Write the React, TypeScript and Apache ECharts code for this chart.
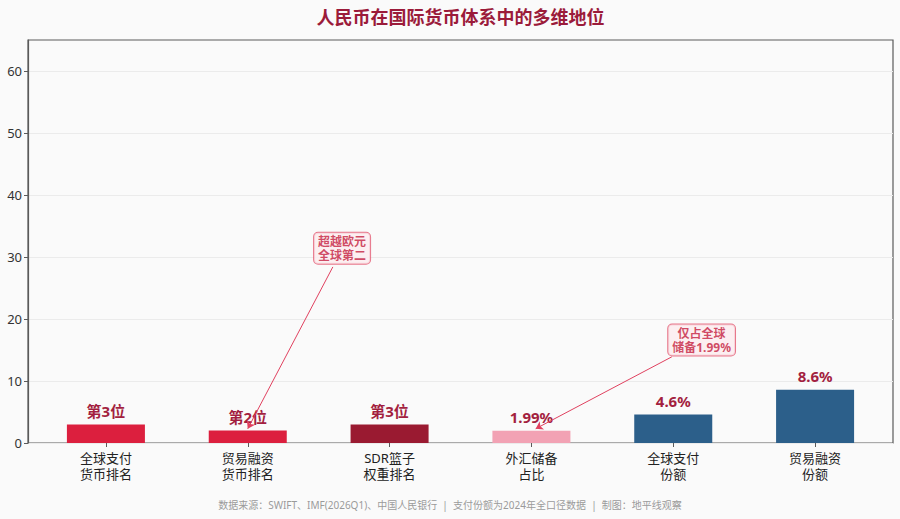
import React, { useEffect, useRef } from "react";
import * as echarts from "echarts";

const title = "人民币在国际货币体系中的多维地位";
const categories = [
  "全球支付\n货币排名",
  "贸易融资\n货币排名",
  "SDR篮子\n权重排名",
  "外汇储备\n占比",
  "全球支付\n份额",
  "贸易融资\n份额",
];
const values = [3, 2, 3, 1.99, 4.6, 8.6];
const valueLabels = ["第3位", "第2位", "第3位", "1.99%", "4.6%", "8.6%"];
const yTicks = [0, 10, 20, 30, 40, 50, 60];
const yMax = 65;

// annotations in data space (x = category index, y = value)
const annotationTexts = ["超越欧元\n全球第二", "仅占全球\n储备1.99%"];
const annotationBoxes = [
  [1.665, 31.4],
  [4.2, 16.6],
];
const arrowStarts = [
  [1.6, 28.4],
  [3.99, 13.9],
];
const arrowEnds = [
  [1.0, 2.3],
  [3.03, 2.3],
];
const footer =
  "数据来源：SWIFT、IMF(2026Q1)、中国人民银行  |  支付份额为2024年全口径数据  |  制图：地平线观察";

const barColors = ["#dc1f3e", "#dc1f3e", "#9a1a31", "#f2a2b4", "#2c5f8a", "#2c5f8a"];
const FONT = "'Noto Sans', 'Noto Sans CJK SC', sans-serif";

export default function App() {
  const ref = useRef<HTMLDivElement>(null);
  useEffect(() => {
    if (!ref.current) return;
    const chart = echarts.init(ref.current, undefined, { renderer: "svg" });
    const frame = "#5a5a5a";
    const option: any = {
      animation: false,
      backgroundColor: "#fafafa",
      textStyle: { fontFamily: FONT },
      graphic: [
        {
          type: "text",
          x: 460.5,
          y: 17,
          style: {
            text: title,
            fontFamily: FONT,
            fontSize: 18,
            fontWeight: "bold",
            fill: "#9b1b3a",
            align: "center",
            verticalAlign: "middle",
          },
        },
        {
          type: "text",
          left: "center",
          top: 500,
          style: { text: footer, fontFamily: FONT, fontSize: 10, fill: "#9a9a9a" },
        },
      ],
      grid: [
        { left: 28, right: 7, top: 40, bottom: 76, show: true, borderColor: frame, borderWidth: 1.2, backgroundColor: "#fafafa" },
        { left: 35, right: 14, top: 40, bottom: 76, show: false },
      ],
      xAxis: [
        { type: "value", gridIndex: 0, min: 0, max: 1, show: false },
        {
          type: "category",
          gridIndex: 1,
          data: categories,
          axisLine: { show: false },
          axisTick: { show: true, alignWithLabel: true, length: 4, lineStyle: { color: frame } },
          axisLabel: { fontFamily: FONT, fontSize: 13, color: "#222", lineHeight: 16, margin: 7 },
        },
        { type: "value", gridIndex: 1, min: -0.5, max: 5.5, show: false },
      ],
      yAxis: [
        {
          type: "value",
          gridIndex: 0,
          min: 0,
          max: yMax,
          interval: 10,
          axisLine: { show: true, lineStyle: { color: frame, width: 1.2 } },
          axisTick: { show: true, length: 4, lineStyle: { color: frame }, customValues: yTicks },
          axisLabel: { fontFamily: FONT, fontSize: 13, color: "#333", margin: 6, customValues: yTicks },
          splitLine: { show: true, lineStyle: { color: "#ebebeb", width: 1 } },
        },
        { type: "value", gridIndex: 1, min: 0, max: yMax, show: false },
      ],
      series: [
        {
          type: "bar",
          xAxisIndex: 1,
          yAxisIndex: 1,
          barWidth: "55%",
          data: values.map((v, i) => ({ value: v, itemStyle: { color: barColors[i] } })),
          label: {
            show: true,
            position: "top",
            distance: 6,
            formatter: (p: any) => valueLabels[p.dataIndex],
            fontFamily: FONT,
            fontSize: 15,
            fontWeight: "bold",
            color: "#a31f40",
          },
        },
        {
          type: "scatter",
          xAxisIndex: 2,
          yAxisIndex: 1,
          symbolSize: 1,
          itemStyle: { color: "rgba(0,0,0,0)" },
          silent: true,
          z: 5,
          data: annotationBoxes.map((p, i) => ({ value: p, name: annotationTexts[i] })),
          label: {
            show: true,
            position: "inside",
            formatter: (p: any) => annotationTexts[p.dataIndex],
            fontFamily: FONT,
            fontSize: 12,
            fontWeight: "bold",
            color: "#c41d3e",
            lineHeight: 14,
            align: "center",
            backgroundColor: "#fdecef",
            borderColor: "#e2566f",
            borderWidth: 1,
            borderRadius: 4,
            padding: [2, 4, 1, 4],
          },
          markLine: {
            silent: true,
            symbol: ["none", "arrow"],
            symbolSize: 7,
            label: { show: false },
            lineStyle: { color: "#e0415f", width: 1, type: "solid" },
            data: arrowStarts.map((s, i) => [{ coord: s }, { coord: arrowEnds[i] }]),
          },
        },
      ],
    };
    chart.setOption(option);
    return () => chart.dispose();
  }, []);
  return <div ref={ref} style={{ width: 900, height: 519, position: "absolute", left: 0, top: 0 }} />;
}
